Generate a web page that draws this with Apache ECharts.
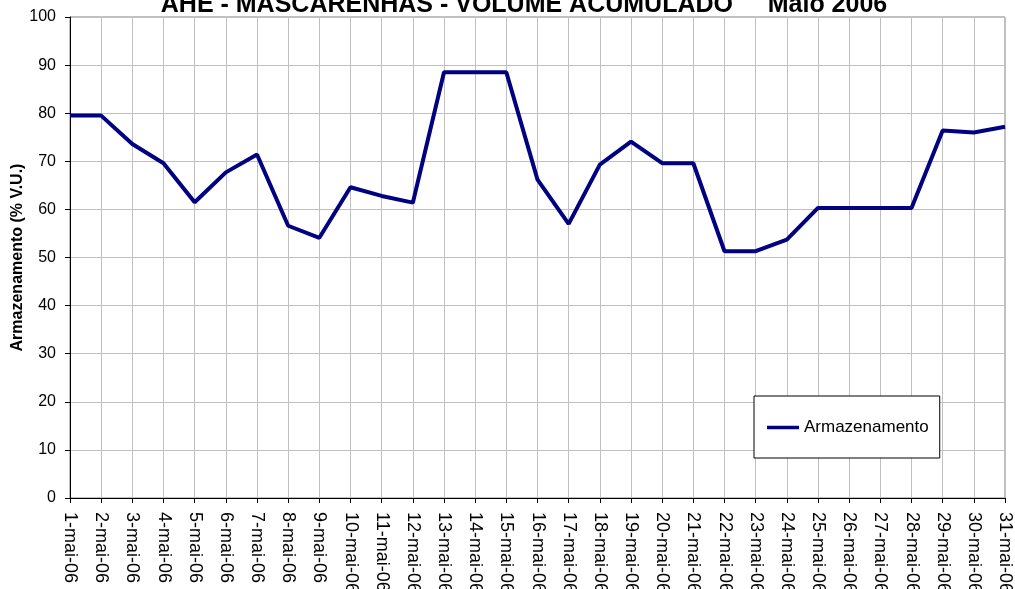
<!DOCTYPE html>
<html>
<head>
<meta charset="utf-8">
<script src="https://cdn.jsdelivr.net/npm/echarts@6/dist/echarts.min.js"></script>
<style>
html,body{margin:0;padding:0;background:#fff;}
#chart{width:1015px;height:589px;}
</style>
</head>
<body>
<div id="chart"></div>
<script>
const titleText = 'AHE - MASCARENHAS - VOLUME ACUMULADO     Maio 2006';
const yAxisName = 'Armazenamento (% V.U.)';
const seriesName = 'Armazenamento';
const categories = ['1-mai-06','2-mai-06','3-mai-06','4-mai-06','5-mai-06','6-mai-06','7-mai-06','8-mai-06','9-mai-06','10-mai-06',
  '11-mai-06','12-mai-06','13-mai-06','14-mai-06','15-mai-06','16-mai-06','17-mai-06','18-mai-06','19-mai-06','20-mai-06',
  '21-mai-06','22-mai-06','23-mai-06','24-mai-06','25-mai-06','26-mai-06','27-mai-06','28-mai-06','29-mai-06','30-mai-06','31-mai-06'];
const armazenamento = [79.5, 79.5, 73.6, 69.6, 61.5, 67.7, 71.4, 56.6, 54.1, 64.6,
  62.8, 61.4, 88.5, 88.5, 88.5, 66.2, 57.0, 69.3, 74.1, 69.6,
  69.6, 51.3, 51.3, 53.7, 60.3, 60.3, 60.3, 60.3, 76.4, 76.0, 77.2];

const FONT = '"Liberation Sans", Arial, sans-serif';
const chart = echarts.init(document.getElementById('chart'), null, {renderer:'canvas'});
chart.setOption({
  animation: false,
  backgroundColor: '#ffffff',
  textStyle: {fontFamily: FONT},
  graphic: [{
    type: 'text',
    x: 524, y: 5,
    style: {
      text: titleText,
      fontFamily: FONT,
      fontSize: 25,
      fontWeight: 'bold',
      fill: '#000',
      align: 'center',
      verticalAlign: 'middle'
    },
    z: 10
  }],
  grid: {
    left: 70, right: 10, top: 17, bottom: 91,
    outerBoundsMode: 'none',
    containLabel: false,
    show: true, borderColor: '#808080', borderWidth: 1, backgroundColor: '#fff'
  },
  legend: {
    data: [seriesName],
    left: 754, top: 396,
    orient: 'horizontal',
    backgroundColor: '#fff',
    borderColor: '#000',
    borderWidth: 1,
    borderRadius: 0,
    padding: [23, 11, 22, 13],
    icon: 'rect',
    itemWidth: 32,
    itemHeight: 3.5,
    textStyle: {fontFamily: FONT, fontSize: 17, color: '#000'}
  },
  xAxis: {
    type: 'category',
    data: categories,
    boundaryGap: false,
    axisLine: {show: true, lineStyle: {color: '#000', width: 1}},
    axisTick: {show: true, length: 5, interval: 0, lineStyle: {color: '#000'}},
    axisLabel: {interval: 0, rotate: -90, fontSize: 18, color: '#000', margin: 14, fontFamily: FONT},
    splitLine: {show: true, interval: 0, lineStyle: {color: '#c0c0c0', width: 1}}
  },
  yAxis: {
    type: 'value',
    min: 0, max: 100, interval: 10,
    name: yAxisName,
    nameLocation: 'middle',
    nameGap: 44,
    nameMoveOverlap: false,
    nameTextStyle: {fontFamily: FONT, fontSize: 16, fontWeight: 'bold', color: '#000'},
    axisLine: {show: true, lineStyle: {color: '#000', width: 1}},
    axisTick: {show: true, length: 5, lineStyle: {color: '#000'}},
    axisLabel: {fontSize: 16, color: '#000', margin: 14, fontFamily: FONT},
    splitLine: {show: true, lineStyle: {color: '#c0c0c0', width: 1}}
  },
  series: [{
    name: seriesName,
    type: 'line',
    data: armazenamento,
    symbol: 'none',
    lineStyle: {color: '#000080', width: 4},
    itemStyle: {color: '#000080'},
    z: 5
  }]
});
</script>
</body>
</html>
